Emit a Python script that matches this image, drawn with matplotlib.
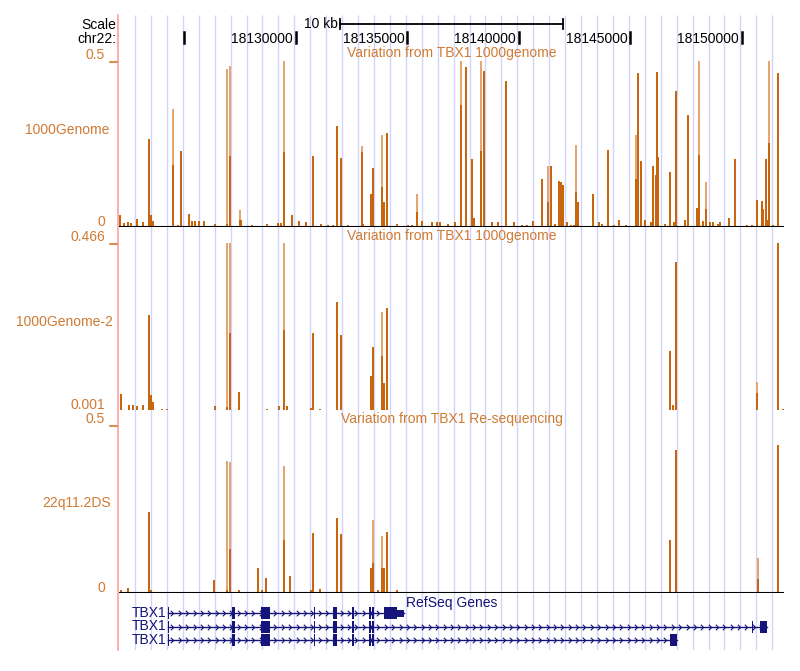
import numpy as np
import matplotlib
matplotlib.use("Agg")
import matplotlib.pyplot as plt
from matplotlib.path import Path

plt.rcParams['font.family'] = ['Liberation Sans', 'DejaVu Sans']

# ---------------- data ----------------
view_start, view_end = 18122071, 18151897

coord_ticks = [18125000, 18130000, 18135000, 18140000, 18145000, 18150000]
coord_labels = ["", "18130000", "18135000", "18140000", "18145000", "18150000"]
scale_bar_start, scale_bar_len = 18131990, 10000

grid_start, grid_step = 18122789, 714.5

# Track 1: Variation from TBX1 1000genome (1000Genome)
t1_pos = [18122116, 18122295, 18122475, 18122609, 18122878, 18123148, 18123417, 18123506,
          18123596, 18124000, 18124224, 18124493, 18124717, 18124852, 18125211, 18125345,
          18125480, 18125659, 18125883, 18126377, 18126915, 18127050, 18127498, 18127543,
          18128036, 18128709, 18129202, 18129337, 18129471, 18129830, 18130144, 18130458,
          18130772, 18131131, 18131445, 18131669, 18131848, 18132028, 18132342, 18132970,
          18133015, 18133373, 18133463, 18133867, 18133956, 18134091, 18134539, 18135033,
          18135212, 18135436, 18135661, 18136109, 18136333, 18136468, 18136827, 18137141,
          18137410, 18137634, 18137903, 18137993, 18138307, 18138441, 18138800, 18139069,
          18139428, 18139787, 18140146, 18140370, 18140639, 18141043, 18141312, 18141446,
          18141626, 18141805, 18141895, 18141985, 18142164, 18142343, 18142478, 18142568,
          18142657, 18143330, 18143599, 18143734, 18144003, 18144272, 18144496, 18144810,
          18145259, 18145348, 18145483, 18145662, 18145931, 18146021, 18146156, 18146200,
          18146245, 18146559, 18146784, 18146963, 18147053, 18147456, 18147591, 18147994,
          18148084, 18148264, 18148398, 18148578, 18148712, 18148936, 18149026, 18149430,
          18149699, 18150237, 18150461, 18150685, 18150910, 18150955, 18151089, 18151134,
          18151224, 18151403, 18151627]
t1_max = [0.037, 0.012, 0.015, 0.012, 0.025, 0.015, 0.264, 0.035,
          0.017, 0.003, 0.003, 0.356, 0.005, 0.230, 0.040, 0.017,
          0.017, 0.017, 0.017, 0.010, 0.476, 0.486, 0.050, 0.020,
          0.005, 0.010, 0.012, 0.012, 0.506, 0.037, 0.018, 0.015,
          0.213, 0.010, 0.005, 0.005, 0.304, 0.208, 0.005, 0.243,
          0.010, 0.100, 0.177, 0.277, 0.075, 0.284, 0.010, 0.007,
          0.007, 0.100, 0.018, 0.015, 0.015, 0.015, 0.010, 0.015,
          0.506, 0.482, 0.205, 0.028, 0.505, 0.470, 0.015, 0.015,
          0.440, 0.015, 0.007, 0.007, 0.018, 0.145, 0.185, 0.185,
          0.010, 0.140, 0.135, 0.127, 0.015, 0.007, 0.007, 0.248,
          0.075, 0.098, 0.015, 0.010, 0.232, 0.007, 0.022, 0.005,
          0.276, 0.464, 0.200, 0.022, 0.015, 0.183, 0.157, 0.466,
          0.210, 0.010, 0.165, 0.015, 0.410, 0.022, 0.336, 0.057,
          0.506, 0.018, 0.135, 0.015, 0.015, 0.010, 0.015, 0.027,
          0.205, 0.005, 0.005, 0.080, 0.077, 0.053, 0.205, 0.020,
          0.506, 0.007, 0.464]
t1_mean = [0.037, 0.012, 0.015, 0.012, 0.025, 0.015, 0.264, 0.035,
           0.017, 0.003, 0.003, 0.187, 0.005, 0.230, 0.040, 0.017,
           0.017, 0.017, 0.017, 0.010, 0.010, 0.214, 0.020, 0.020,
           0.005, 0.010, 0.012, 0.012, 0.225, 0.037, 0.018, 0.015,
           0.213, 0.010, 0.005, 0.005, 0.304, 0.208, 0.005, 0.225,
           0.010, 0.100, 0.177, 0.120, 0.075, 0.284, 0.010, 0.007,
           0.007, 0.045, 0.018, 0.015, 0.015, 0.015, 0.010, 0.015,
           0.368, 0.482, 0.205, 0.028, 0.230, 0.470, 0.015, 0.015,
           0.440, 0.015, 0.007, 0.007, 0.018, 0.145, 0.075, 0.185,
           0.010, 0.140, 0.135, 0.127, 0.015, 0.007, 0.007, 0.105,
           0.075, 0.098, 0.015, 0.010, 0.232, 0.007, 0.022, 0.005,
           0.145, 0.464, 0.200, 0.022, 0.015, 0.183, 0.157, 0.466,
           0.210, 0.010, 0.165, 0.015, 0.410, 0.022, 0.336, 0.057,
           0.218, 0.018, 0.055, 0.015, 0.015, 0.010, 0.015, 0.027,
           0.205, 0.005, 0.005, 0.080, 0.077, 0.053, 0.205, 0.020,
           0.254, 0.007, 0.464]

# Track 2: 1000Genome-2
t2_pos = [18122161, 18122520, 18122699, 18122878, 18123148, 18123417, 18123506, 18123596,
          18124000, 18124224, 18126377, 18126915, 18127050, 18127453, 18128709, 18129247,
          18129471, 18129606, 18130682, 18130772, 18131086, 18131848, 18132028, 18133373,
          18133463, 18133867, 18133956, 18134091, 18146784, 18146918, 18147053, 18150685,
          18151627, 18151852]
t2_max = [0.046, 0.015, 0.015, 0.012, 0.015, 0.266, 0.043, 0.024,
          0.004, 0.004, 0.012, 0.466, 0.466, 0.050, 0.004, 0.012,
          0.466, 0.012, 0.006, 0.215, 0.004, 0.303, 0.210, 0.097,
          0.177, 0.275, 0.075, 0.284, 0.165, 0.015, 0.414, 0.080,
          0.465, 0.004]
t2_mean = [0.046, 0.015, 0.015, 0.012, 0.015, 0.266, 0.043, 0.024,
           0.004, 0.004, 0.012, 0.010, 0.215, 0.050, 0.004, 0.012,
           0.224, 0.012, 0.006, 0.215, 0.004, 0.303, 0.210, 0.097,
           0.177, 0.150, 0.075, 0.284, 0.165, 0.015, 0.414, 0.047,
           0.465, 0.004]

# Track 3: 22q11.2DS (Re-sequencing)
t3_pos = [18122161, 18122475, 18122699, 18122878, 18123417, 18123506, 18124224, 18126332,
          18126915, 18127050, 18127453, 18128305, 18128485, 18128664, 18128978, 18129471,
          18129741, 18130682, 18130772, 18131086, 18131848, 18132028, 18133373, 18133463,
          18133687, 18133867, 18133956, 18134091, 18134539, 18134674, 18146784, 18146963,
          18147053, 18150730, 18151627, 18151852]
t3_max = [0.008, 0.016, 0.003, 0.003, 0.240, 0.008, 0.002, 0.038,
          0.393, 0.390, 0.008, 0.075, 0.008, 0.045, 0.003, 0.378,
          0.050, 0.008, 0.180, 0.013, 0.224, 0.175, 0.073, 0.217,
          0.008, 0.170, 0.073, 0.182, 0.008, 0.004, 0.157, 0.004,
          0.427, 0.104, 0.440, 0.003]
t3_mean = [0.008, 0.016, 0.003, 0.003, 0.240, 0.008, 0.002, 0.038,
           0.010, 0.132, 0.008, 0.075, 0.008, 0.045, 0.003, 0.157,
           0.050, 0.008, 0.180, 0.013, 0.224, 0.175, 0.073, 0.090,
           0.008, 0.073, 0.073, 0.182, 0.008, 0.004, 0.157, 0.004,
           0.427, 0.043, 0.440, 0.003]

# RefSeq gene models
gene_names = ["TBX1", "TBX1", "TBX1"]
tx_start = [18124269, 18124269, 18124269]
tx_end = [18134853, 18151134, 18147098]
common_exons = [(18124269, 18124314), (18127117, 18127296), (18128440, 18128844),
                (18130817, 18130862), (18131669, 18131848), (18132521, 18132611),
                (18133284, 18133373), (18133418, 18133508)]
extra_thick = [[(18133956, 18134539)], [(18150461, 18150506), (18150820, 18151134)],
               [(18146784, 18147098)]]
extra_thin = [[(18134539, 18134853)], [], []]

# ---------------- style ----------------
W, H = 800, 671
X_LEFT, X_RIGHT = 119, 784
DARK = "#c8650c"
LIGHT = "#e6a36a"
LABEL = "#d07a32"
NAVY = "#14147a"
GRID = "#d4d4fb"
PINK = "#ffa0a0"
FS = 10

fig = plt.figure(figsize=(8, 6.71), dpi=100)


def add_ax(x0, y0, x1, y1, z=2):
    ax = fig.add_axes([x0 / W, 1 - y1 / H, (x1 - x0) / W, (y1 - y0) / H])
    ax.set_zorder(z)
    ax.patch.set_visible(False)
    ax.set_axis_off()
    ax.set_xlim(view_start, view_end)
    return ax


# gridlines
gax = add_ax(X_LEFT, 15, X_RIGHT, 650, z=0)
gax.set_ylim(0, 1)
glines = np.arange(grid_start, view_end, grid_step)
gax.vlines(glines, 0, 1, color=GRID, lw=1.0)

# pixel overlay for labels
bg = fig.add_axes([0, 0, 1, 1])
bg.set_zorder(5)
bg.patch.set_visible(False)
bg.set_axis_off()
bg.set_xlim(0, W)
bg.set_ylim(H, 0)
bg.plot([117.5, 117.5], [15, 650], color=PINK, lw=1.2)

# header
hax = add_ax(X_LEFT, 10, X_RIGHT, 48, z=3)
hax.set_ylim(48, 10)
bg.text(116, 25, "Scale", ha="right", va="center", fontsize=FS, color="black")
bg.text(116, 39, "chr22:", ha="right", va="center", fontsize=FS, color="black")
hax.plot([scale_bar_start, scale_bar_start + scale_bar_len], [24, 24], color="black", lw=1.3)
for xb in (scale_bar_start, scale_bar_start + scale_bar_len):
    hax.plot([xb, xb], [19, 29], color="black", lw=1.3)
hax.text(scale_bar_start - 80, 23.5, "10 kb", ha="right", va="center", fontsize=FS, color="black")
for t, lab in zip(coord_ticks, coord_labels):
    hax.plot([t, t], [32, 43], color="black", lw=1.8)
    if lab:
        hax.text(t - 120, 39, lab, ha="right", va="center", fontsize=FS, color="black")


def draw_track(y0, y1, lo, hi, pos, vmax, vmean, title, title_y, name, name_x, name_y,
               hi_lab, lo_lab, baseline):
    ax = add_ax(X_LEFT, y0, X_RIGHT, y1)
    ax.set_ylim(lo, hi)
    vmax = np.minimum(vmax, hi)
    vmean = np.minimum(vmean, hi)
    ax.vlines(pos, lo, vmax, color=LIGHT, lw=1.4)
    ax.vlines(pos, lo, vmean, color=DARK, lw=1.4)
    if baseline:
        ax.axhline(lo, color="black", lw=1.5)
    bg.text(452, title_y, title, ha="center", va="center", fontsize=FS, color=LABEL)
    bg.text(name_x, name_y, name, ha="right", va="center", fontsize=FS, color=LABEL)
    bg.text(105, y0 - 6, hi_lab, ha="right", va="center", fontsize=FS, color=LABEL)
    bg.plot([110, 117], [y0 + 0.5, y0 + 0.5], color=LABEL, lw=1.2)
    bg.text(105, y1 - 5, lo_lab, ha="right", va="center", fontsize=FS, color=LABEL)
    return ax


draw_track(61, 227, 0, 0.5, t1_pos, t1_max, t1_mean,
           "Variation from TBX1 1000genome", 53, "1000Genome", 109, 130, "0.5", "0", True)
draw_track(243, 410, 0.001, 0.466, t2_pos, t2_max, t2_mean,
           "Variation from TBX1 1000genome", 236, "1000Genome-2", 113, 322, "0.466", "0.001", False)
draw_track(425, 593, 0, 0.5, t3_pos, t3_max, t3_mean,
           "Variation from TBX1 Re-sequencing", 419, "22q11.2DS", 111, 503, "0.5", "0", True)

# gene track
gene_ax = add_ax(X_LEFT, 596, X_RIGHT, 652)
gene_ax.set_ylim(652, 596)
row_y = [613, 626.5, 640]
chevron = Path([(-0.6, 1.0), (0.4, 0.0), (-0.6, -1.0)],
               [Path.MOVETO, Path.LINETO, Path.LINETO])
bg.text(406, 603, "RefSeq Genes", ha="left", va="center", fontsize=FS, color=NAVY)
for i, y in enumerate(row_y):
    gene_ax.plot([tx_start[i], tx_end[i]], [y, y], color=NAVY, lw=1.0)
    marks = np.arange(tx_start[i] + 200, tx_end[i] - 100, 330)
    gene_ax.plot(marks, np.full(len(marks), y), ls="none", marker=chevron, ms=4,
                 mfc="none", mec=NAVY, mew=0.8)
    for s, e in common_exons + extra_thick[i]:
        gene_ax.add_patch(plt.Rectangle((s, y - 6), max(e - s, 45), 12, color=NAVY, lw=0))
    for s, e in extra_thin[i]:
        gene_ax.add_patch(plt.Rectangle((s, y - 3.5), e - s, 7, color=NAVY, lw=0))
    bg.text(166, y, gene_names[i], ha="right", va="center", fontsize=FS, color=NAVY)

fig.savefig("out.png", dpi=100)
